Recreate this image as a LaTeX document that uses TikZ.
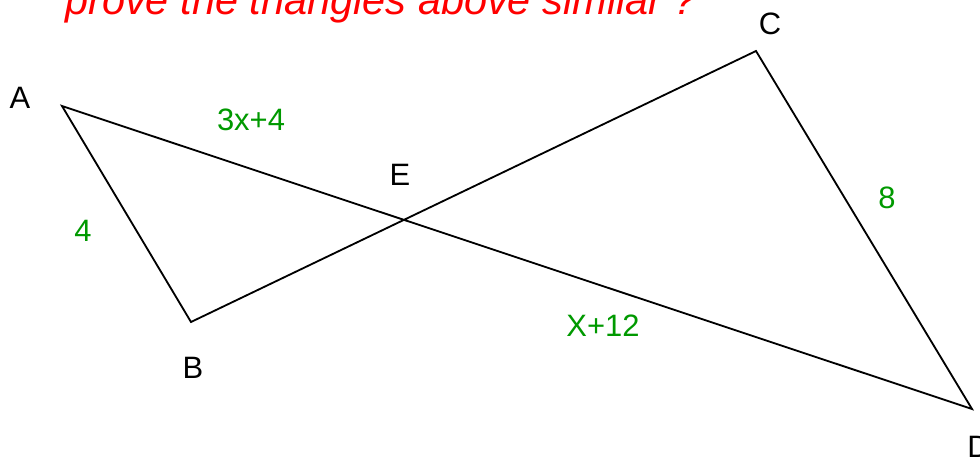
\documentclass[tikz,border=0pt]{standalone}
\usepackage{fontspec}
\setmainfont{Liberation Sans}
\usetikzlibrary{positioning}

\definecolor{sidegreen}{RGB}{0,153,0}
\definecolor{titlered}{RGB}{255,0,0}

\begin{document}
\begin{tikzpicture}[
    x=0.025cm, y=-0.025cm,
    edge/.style={draw=black, line width=1.3pt, line join=miter},
    vlabel/.style={font=\fontsize{22}{26}\selectfont, text=black, inner sep=0pt},
    slabel/.style={font=\fontsize{22}{26}\selectfont, text=sidegreen, inner sep=0pt},
    title/.style={font=\itshape\fontsize{29.5}{34}\selectfont, text=titlered, inner sep=0pt}
  ]
    \useasboundingbox (0,0) rectangle (980,458);
    \clip (0,0) rectangle (980,458);

    % vertices
    \coordinate (A) at (62,106);
    \coordinate (B) at (191,322);
    \coordinate (C) at (756,51);
    \coordinate (D) at (972,409);
    \coordinate (E) at (intersection of A--D and B--C);

    \draw[edge] (A) -- (B) -- (C) -- (D) -- cycle;

    % vertex names
    \node[vlabel] (la) at (20,98) {A};
    \node[vlabel] (lb) at (193,368) {B};
    \node[vlabel] (lc) at (770,24) {C};
    \node[vlabel, anchor=north west] (ld) at (967,436) {D};
    \node[vlabel] (le) at (400,175) {E};

    % side lengths
    \node[slabel] (ae) at (251,120) {3x+4};
    \node[slabel] (ab) at (83,231) {4};
    \node[slabel] (cd) at (887,198) {8};
    \node[slabel] (ed) at (603,326) {X+12};

    \node[title, anchor=base west] (q) at (65,15) {prove the triangles above similar ?};
  \end{tikzpicture}
\end{document}
